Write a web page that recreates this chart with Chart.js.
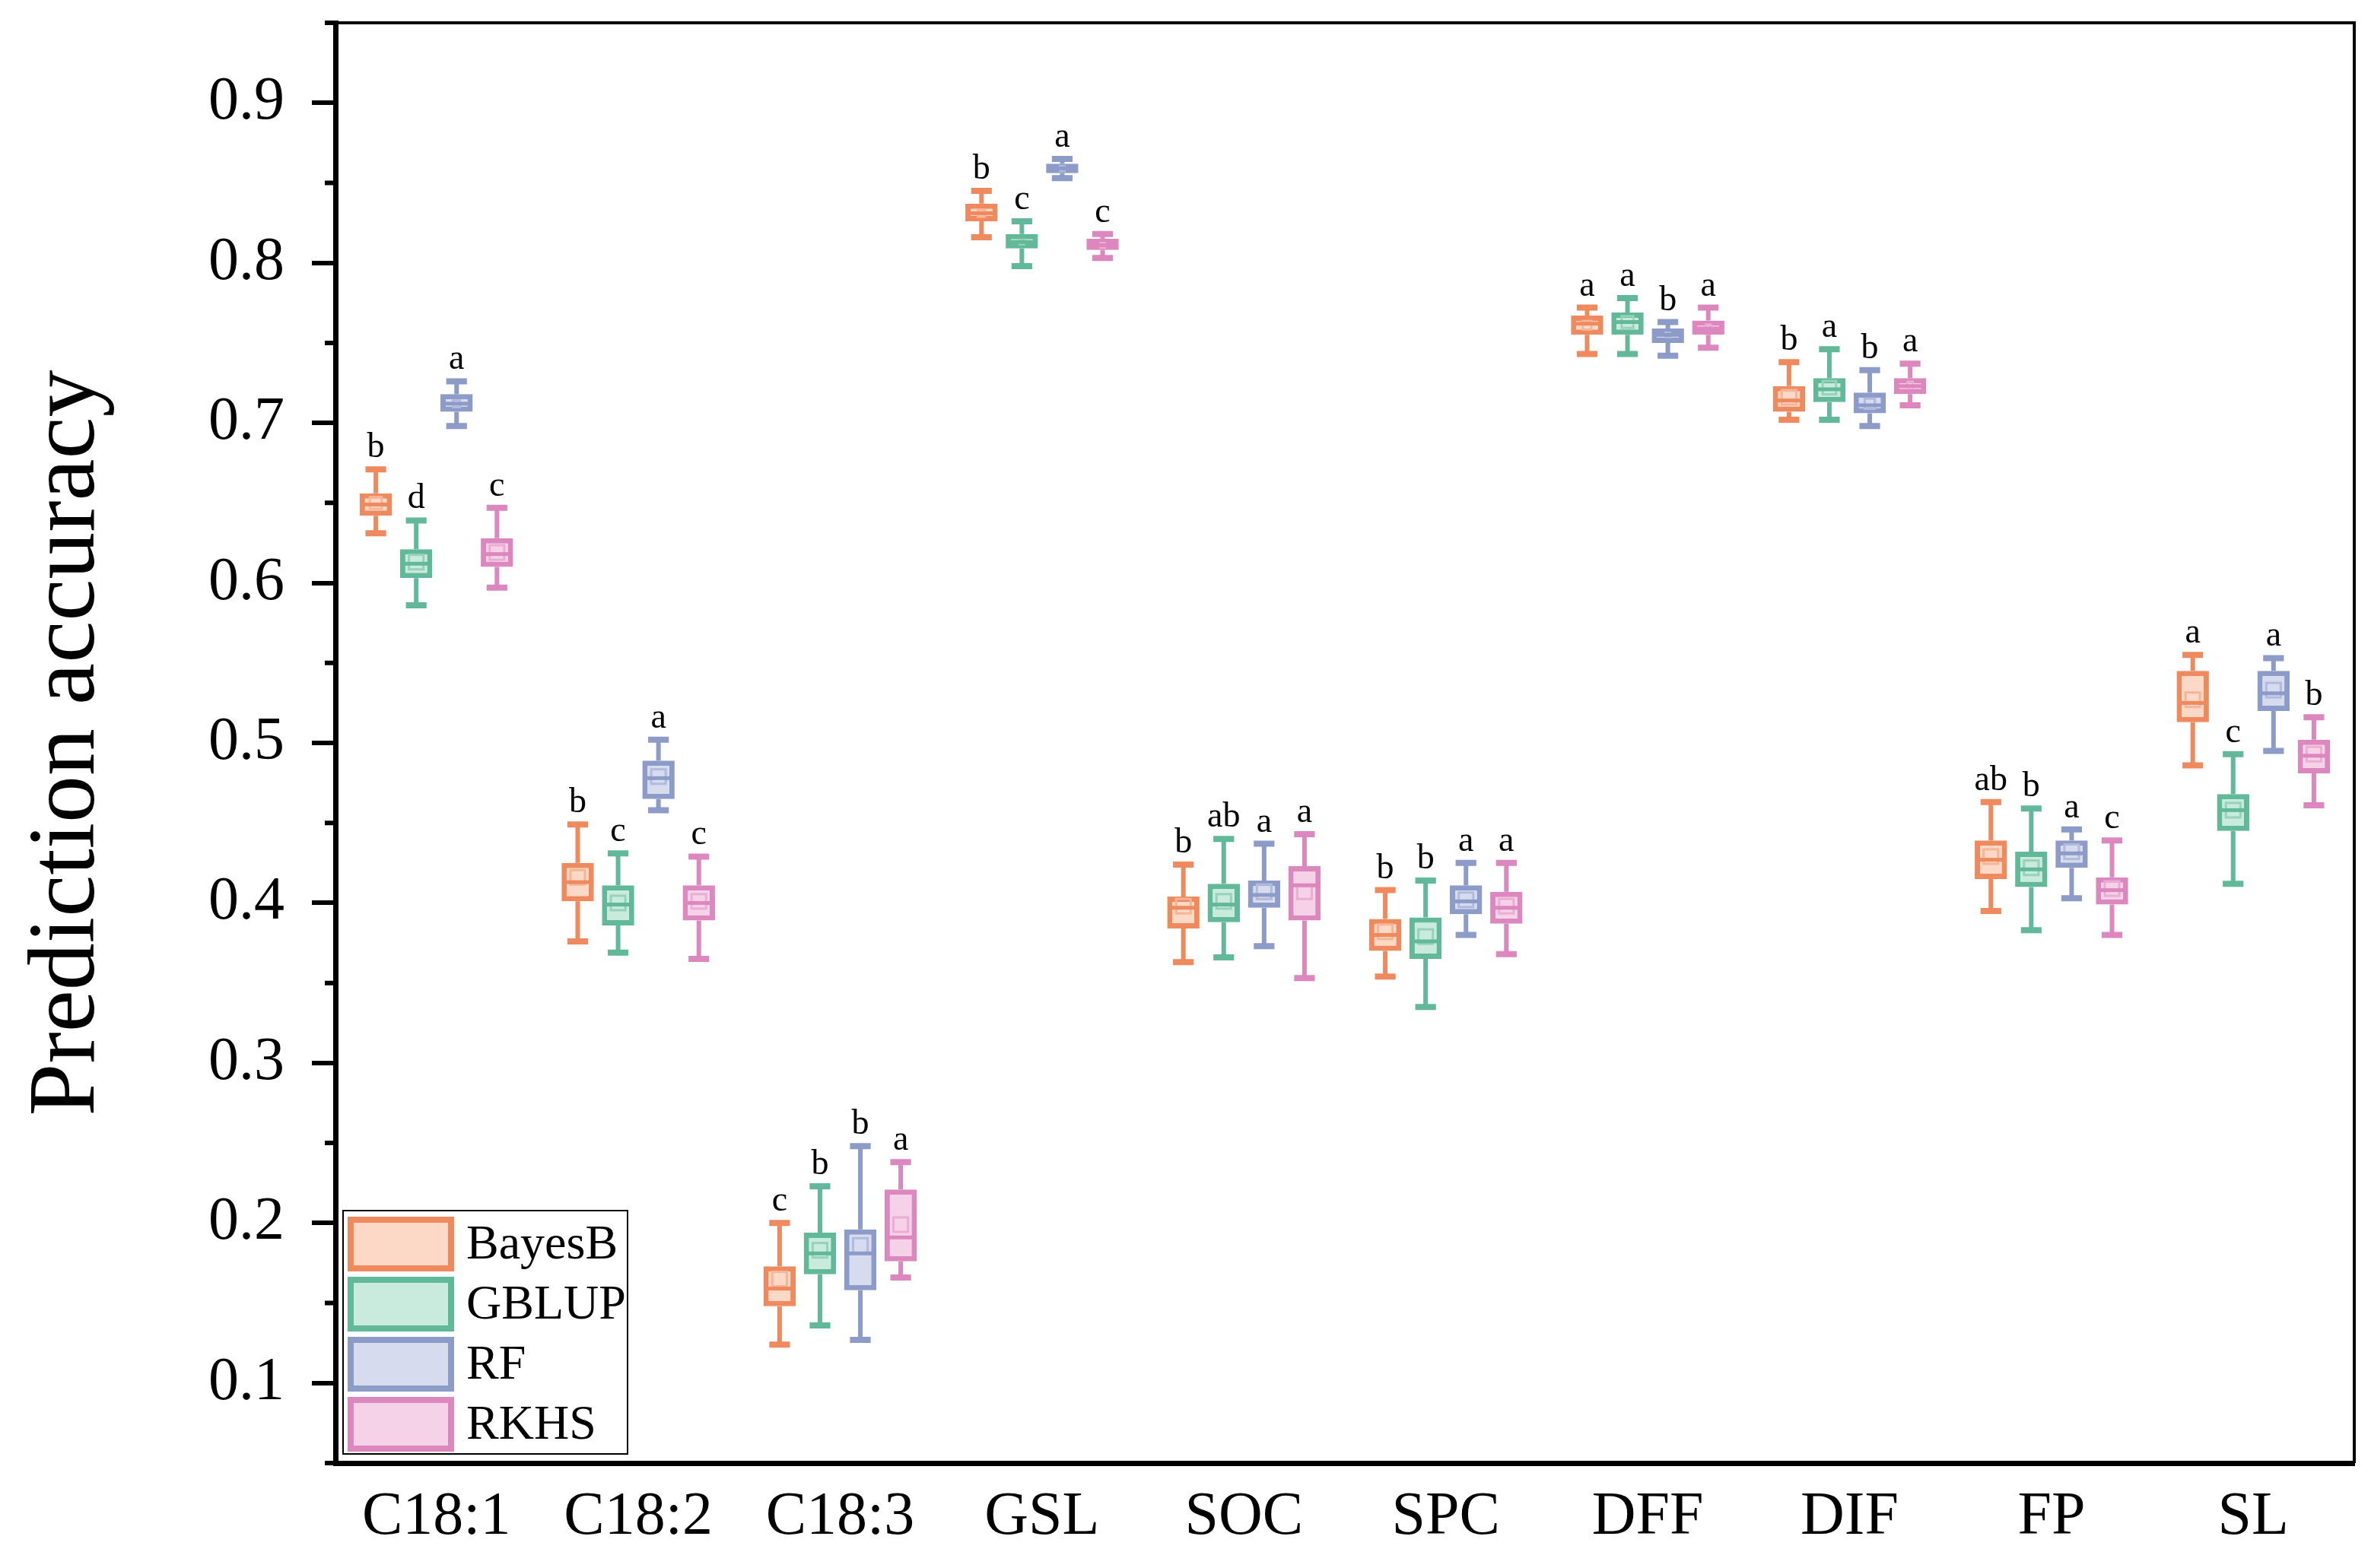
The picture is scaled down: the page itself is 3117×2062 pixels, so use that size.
<!DOCTYPE html>
<html>
<head>
<meta charset="utf-8">
<script src="https://cdn.jsdelivr.net/npm/chart.js@4.4.1/dist/chart.umd.min.js"></script>
<style>
  html, body { margin: 0; padding: 0; background: #fff; }
  #wrap { width: 3117px; height: 2062px; }
</style>
</head>
<body>
<div id="wrap"><canvas id="accChart" width="3117" height="2062"></canvas></div>
<script>
// Traits and models
const traits = ['C18:1', 'C18:2', 'C18:3', 'GSL', 'SOC', 'SPC', 'DFF', 'DIF', 'FP', 'SL'];
const models = ['BayesB', 'GBLUP', 'RF', 'RKHS'];

// BayesB (min, Q1, median, Q3, max, mean, letters)
const bayesBMin = [0.631, 0.376, 0.124, 0.816, 0.363, 0.354, 0.743, 0.702, 0.395, 0.486];
const bayesBQ1  = [0.642, 0.401, 0.148, 0.826, 0.384, 0.370, 0.755, 0.707, 0.415, 0.513];
const bayesBMed = [0.649, 0.413, 0.159, 0.831, 0.397, 0.380, 0.762, 0.714, 0.427, 0.525];
const bayesBQ3  = [0.656, 0.425, 0.173, 0.837, 0.404, 0.390, 0.767, 0.723, 0.439, 0.545];
const bayesBMax = [0.671, 0.449, 0.200, 0.845, 0.424, 0.408, 0.772, 0.738, 0.463, 0.555];
const bayesBMean = [0.650, 0.416, 0.165, 0.831, 0.398, 0.382, 0.761, 0.716, 0.429, 0.527];
const bayesBLetters = ['b', 'b', 'c', 'b', 'b', 'b', 'a', 'b', 'ab', 'a'];

// GBLUP
const gblupMin = [0.586, 0.369, 0.136, 0.798, 0.366, 0.335, 0.743, 0.702, 0.383, 0.412];
const gblupQ1  = [0.603, 0.386, 0.168, 0.809, 0.388, 0.365, 0.755, 0.713, 0.410, 0.445];
const gblupMed = [0.612, 0.399, 0.181, 0.813, 0.399, 0.376, 0.763, 0.721, 0.421, 0.458];
const gblupQ3  = [0.621, 0.411, 0.194, 0.818, 0.412, 0.391, 0.769, 0.728, 0.432, 0.468];
const gblupMax = [0.639, 0.431, 0.223, 0.826, 0.440, 0.414, 0.778, 0.746, 0.459, 0.493];
const gblupMean = [0.613, 0.400, 0.183, 0.813, 0.401, 0.379, 0.763, 0.722, 0.422, 0.458];
const gblupLetters = ['d', 'c', 'b', 'c', 'ab', 'b', 'a', 'a', 'b', 'c'];

// RF
const rfMin = [0.698, 0.458, 0.127, 0.853, 0.373, 0.380, 0.742, 0.698, 0.403, 0.495];
const rfQ1  = [0.707, 0.465, 0.158, 0.856, 0.397, 0.393, 0.750, 0.706, 0.422, 0.520];
const rfMed = [0.712, 0.478, 0.181, 0.859, 0.405, 0.401, 0.755, 0.711, 0.431, 0.531];
const rfQ3  = [0.718, 0.489, 0.196, 0.862, 0.414, 0.411, 0.759, 0.719, 0.439, 0.545];
const rfMax = [0.726, 0.502, 0.248, 0.865, 0.437, 0.425, 0.763, 0.733, 0.446, 0.553];
const rfMean = [0.712, 0.479, 0.186, 0.859, 0.407, 0.402, 0.755, 0.712, 0.432, 0.533];
const rfLetters = ['a', 'a', 'b', 'a', 'a', 'a', 'b', 'b', 'a', 'a'];

// RKHS
const rkhsMin = [0.597, 0.365, 0.166, 0.803, 0.353, 0.368, 0.747, 0.711, 0.380, 0.461];
const rkhsQ1  = [0.610, 0.389, 0.176, 0.808, 0.389, 0.387, 0.755, 0.718, 0.399, 0.481];
const rkhsMed = [0.618, 0.400, 0.191, 0.811, 0.411, 0.397, 0.759, 0.723, 0.408, 0.492];
const rkhsQ3  = [0.628, 0.411, 0.221, 0.815, 0.423, 0.407, 0.764, 0.728, 0.416, 0.502];
const rkhsMax = [0.647, 0.429, 0.238, 0.818, 0.443, 0.425, 0.772, 0.737, 0.439, 0.516];
const rkhsMean = [0.619, 0.401, 0.199, 0.811, 0.407, 0.398, 0.760, 0.724, 0.409, 0.493];
const rkhsLetters = ['c', 'c', 'a', 'c', 'a', 'a', 'a', 'a', 'c', 'b'];

// colours: border, fill, inner mean marker
const lineColors = ['#EE8A5E', '#62B999', '#8C9BC7', '#DC87BD'];
const fillColors = ['#FCD9C6', '#C8EBDD', '#D6DCEE', '#F6D2E8'];
const meanColors = ['#F6B596', '#97D2BC', '#B0BBDD', '#EAAED4'];

const stats = [
  { min: bayesBMin, q1: bayesBQ1, med: bayesBMed, q3: bayesBQ3, max: bayesBMax, mean: bayesBMean, letters: bayesBLetters },
  { min: gblupMin, q1: gblupQ1, med: gblupMed, q3: gblupQ3, max: gblupMax, mean: gblupMean, letters: gblupLetters },
  { min: rfMin, q1: rfQ1, med: rfMed, q3: rfQ3, max: rfMax, mean: rfMean, letters: rfLetters },
  { min: rkhsMin, q1: rkhsQ1, med: rkhsMed, q3: rkhsQ3, max: rkhsMax, mean: rkhsMean, letters: rkhsLetters }
];

const serif = "'Liberation Serif', 'Times New Roman', serif";

// whiskers, medians, means and letters on top of the floating bars
const boxExtras = {
  id: 'boxExtras',
  afterDatasetsDraw(chart) {
    const ctx = chart.ctx;
    const y = chart.scales.y;
    chart.data.datasets.forEach((ds, di) => {
      const s = stats[di];
      chart.getDatasetMeta(di).data.forEach((bar, i) => {
        const x = bar.x;
        const half = bar.width / 2;
        const cap = bar.width * 0.32;
        const yMin = y.getPixelForValue(s.min[i]);
        const yQ1 = y.getPixelForValue(s.q1[i]);
        const yQ3 = y.getPixelForValue(s.q3[i]);
        const yMax = y.getPixelForValue(s.max[i]);
        ctx.save();
        ctx.strokeStyle = lineColors[di];
        ctx.lineWidth = 6;
        ctx.beginPath();
        ctx.moveTo(x, yQ3); ctx.lineTo(x, yMax);
        ctx.moveTo(x, yQ1); ctx.lineTo(x, yMin);
        ctx.stroke();
        ctx.lineWidth = 8;
        ctx.beginPath();
        ctx.moveTo(x - cap, yMax); ctx.lineTo(x + cap, yMax);
        ctx.moveTo(x - cap, yMin); ctx.lineTo(x + cap, yMin);
        ctx.stroke();
        // mean square
        const boxH = yQ1 - yQ3;
        const sq = Math.max(6, Math.min(bar.width * 0.45, boxH - 14));
        const yMean = y.getPixelForValue(s.mean[i]);
        ctx.strokeStyle = meanColors[di];
        ctx.lineWidth = 3;
        ctx.strokeRect(x - sq / 2, yMean - sq / 2, sq, sq);
        // median
        ctx.strokeStyle = lineColors[di];
        ctx.lineWidth = 5;
        const yMed = y.getPixelForValue(s.med[i]);
        ctx.beginPath();
        ctx.moveTo(x - half + 6, yMed); ctx.lineTo(x + half - 6, yMed);
        ctx.stroke();
        // significance letter
        ctx.fillStyle = '#000';
        ctx.font = '46px ' + serif;
        ctx.textAlign = 'center';
        ctx.textBaseline = 'alphabetic';
        ctx.fillText(s.letters[i], x, yMax - 16);
        ctx.restore();
      });
    });
  },
  afterDraw(chart) {
    const ctx = chart.ctx;
    const a = chart.chartArea;
    const y = chart.scales.y;
    ctx.save();
    // top and right frame lines
    ctx.strokeStyle = '#000';
    ctx.lineWidth = 4;
    ctx.beginPath();
    ctx.moveTo(a.left, a.top); ctx.lineTo(a.right, a.top); ctx.lineTo(a.right, a.bottom);
    ctx.stroke();
    // minor ticks
    ctx.lineWidth = 6;
    ctx.beginPath();
    y.ticks.forEach(t => {
      if (Math.round(t.value * 100) % 10 !== 0) {
        const py = y.getPixelForValue(t.value);
        ctx.moveTo(a.left - 14, py); ctx.lineTo(a.left, py);
      }
    });
    ctx.stroke();
    // legend box
    const lx = a.left + 10, ly = a.bottom - 332, lw = 374, lh = 320;
    ctx.fillStyle = '#fff';
    ctx.fillRect(lx, ly, lw, lh);
    ctx.lineWidth = 2;
    ctx.strokeRect(lx, ly, lw, lh);
    models.forEach((m, k) => {
      const sy = ly + 8 + k * 79;
      ctx.fillStyle = fillColors[k];
      ctx.fillRect(lx + 6, sy, 140, 72);
      ctx.strokeStyle = lineColors[k];
      ctx.lineWidth = 8;
      ctx.strokeRect(lx + 10, sy + 4, 132, 64);
      ctx.fillStyle = '#000';
      ctx.font = '64px ' + serif;
      ctx.textAlign = 'left';
      ctx.textBaseline = 'middle';
      ctx.fillText(m, lx + 162, sy + 38);
    });
    ctx.restore();
  }
};

const datasets = models.map((m, k) => ({
  label: m,
  data: traits.map((t, i) => [stats[k].q1[i], stats[k].q3[i]]),
  backgroundColor: fillColors[k],
  borderColor: lineColors[k],
  borderWidth: 7,
  borderSkipped: false,
  barPercentage: 0.8,
  categoryPercentage: 0.8
}));

new Chart(document.getElementById('accChart'), {
  type: 'bar',
  data: { labels: traits, datasets: datasets },
  options: {
    responsive: false,
    animation: false,
    devicePixelRatio: 1,
    layout: { padding: { top: 30, right: 22, bottom: 0, left: 0 } },
    plugins: { legend: { display: false }, tooltip: { enabled: false } },
    scales: {
      x: {
        grid: { display: false, drawTicks: false },
        border: { display: true, color: '#000', width: 7 },
        ticks: { color: '#000', font: { family: serif, size: 80 }, padding: 24, autoSkip: false, maxRotation: 0 },
        afterFit: s => { s.height = 138; s.paddingLeft = 0; s.paddingRight = 0; }
      },
      y: {
        min: 0.05,
        max: 0.95,
        grid: {
          drawOnChartArea: false,
          drawTicks: true,
          tickLength: 31,
          lineWidth: 6,
          color: c => (Math.round(c.tick.value * 100) % 10 === 0 ? '#000' : 'rgba(0,0,0,0)')
        },
        border: { display: true, color: '#000', width: 7 },
        ticks: {
          stepSize: 0.05,
          autoSkip: false,
          color: '#000',
          padding: 36,
          font: { family: serif, size: 80 },
          callback: v => {
            const k = Math.round(v * 100);
            return k % 10 === 0 ? (k / 100).toFixed(1) : '';
          }
        },
        title: {
          display: true,
          text: 'Prediction accuracy',
          color: '#000',
          font: { family: serif, size: 124 },
          padding: { top: 16, bottom: 0 }
        },
        afterFit: s => { s.width = 441; s.paddingTop = 0; s.paddingBottom = 0; }
      }
    }
  },
  plugins: [boxExtras]
});
</script>
</body>
</html>
